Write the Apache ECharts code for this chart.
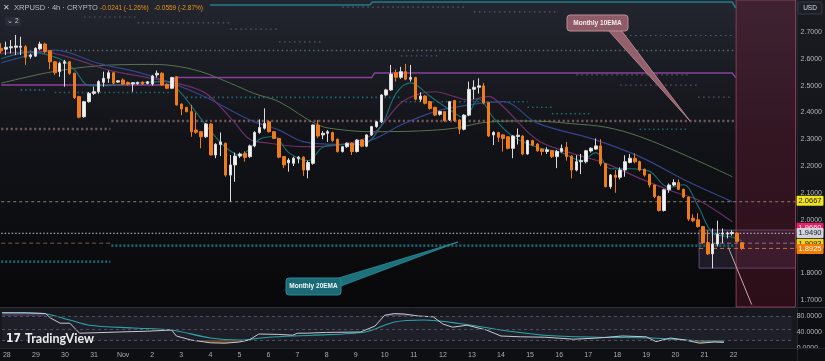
<!DOCTYPE html>
<html><head><meta charset="utf-8">
<script src="https://cdn.jsdelivr.net/npm/echarts@6/dist/echarts.min.js"></script>
<style>html,body{margin:0;padding:0;background:#0b0c10;}#c{width:825px;height:361px;}</style>
</head><body><div id="c"></div>
<script>
// ---------- DATA ----------
const opens  = [2.639,2.636,2.641,2.643,2.643,2.645,2.608,2.610,2.637,2.655,2.630,2.589,2.552,2.583,2.589,2.546,2.459,2.384,2.440,2.471,2.477,2.512,2.527,2.548,2.513,2.521,2.512,2.506,2.507,2.513,2.508,2.506,2.540,2.546,2.505,2.490,2.533,2.431,2.419,2.403,2.334,2.328,2.309,2.357,2.241,2.280,2.285,2.166,2.204,2.237,2.247,2.235,2.275,2.325,2.341,2.365,2.328,2.303,2.235,2.212,2.210,2.227,2.233,2.185,2.210,2.353,2.316,2.322,2.325,2.300,2.254,2.272,2.285,2.254,2.297,2.274,2.316,2.347,2.365,2.465,2.484,2.548,2.531,2.552,2.524,2.530,2.449,2.461,2.440,2.419,2.393,2.403,2.372,2.444,2.372,2.337,2.390,2.486,2.494,2.499,2.436,2.316,2.325,2.316,2.309,2.266,2.310,2.312,2.245,2.295,2.282,2.263,2.254,2.257,2.235,2.254,2.270,2.237,2.185,2.216,2.216,2.256,2.263,2.275,2.208,2.123,2.166,2.158,2.185,2.213,2.229,2.216,2.188,2.169,2.129,2.086,2.034,2.111,2.129,2.138,2.113,2.084,2.005,1.999,1.974,1.914,1.872,1.909,1.946,1.946,1.948,1.950,1.914];
const closes = [2.630,2.643,2.645,2.648,2.647,2.606,2.614,2.639,2.655,2.627,2.589,2.548,2.583,2.589,2.546,2.455,2.382,2.440,2.471,2.477,2.515,2.527,2.548,2.509,2.518,2.506,2.505,2.511,2.512,2.506,2.514,2.536,2.546,2.502,2.490,2.530,2.428,2.413,2.403,2.328,2.326,2.309,2.357,2.241,2.281,2.290,2.166,2.204,2.237,2.245,2.232,2.275,2.325,2.344,2.359,2.328,2.303,2.233,2.204,2.222,2.229,2.233,2.185,2.213,2.353,2.312,2.322,2.328,2.295,2.254,2.272,2.285,2.254,2.297,2.274,2.316,2.347,2.365,2.465,2.484,2.543,2.531,2.552,2.524,2.530,2.449,2.461,2.434,2.415,2.390,2.403,2.369,2.440,2.369,2.337,2.390,2.486,2.494,2.499,2.436,2.312,2.325,2.307,2.303,2.266,2.312,2.315,2.245,2.295,2.278,2.257,2.254,2.260,2.235,2.254,2.266,2.235,2.185,2.216,2.220,2.257,2.266,2.275,2.208,2.123,2.166,2.158,2.185,2.216,2.229,2.216,2.185,2.166,2.129,2.086,2.034,2.111,2.129,2.138,2.113,2.084,2.002,1.996,1.974,1.914,1.872,1.909,1.946,1.950,1.950,1.952,1.918,1.8925];
const lows   = [2.620,2.614,2.620,2.614,2.614,2.577,2.600,2.607,2.633,2.620,2.561,2.540,2.533,2.496,2.540,2.450,2.378,2.380,2.436,2.465,2.470,2.496,2.510,2.505,2.510,2.502,2.500,2.477,2.503,2.503,2.505,2.500,2.530,2.500,2.487,2.487,2.425,2.390,2.400,2.309,2.320,2.266,2.305,2.240,2.229,2.237,2.160,2.067,2.141,2.230,2.216,2.230,2.270,2.320,2.336,2.325,2.300,2.229,2.192,2.179,2.200,2.210,2.163,2.154,2.205,2.305,2.300,2.290,2.290,2.250,2.250,2.268,2.241,2.250,2.270,2.270,2.312,2.343,2.360,2.460,2.480,2.515,2.525,2.520,2.515,2.445,2.440,2.430,2.410,2.386,2.388,2.365,2.368,2.365,2.319,2.333,2.386,2.450,2.470,2.430,2.308,2.278,2.290,2.254,2.262,2.229,2.280,2.240,2.242,2.274,2.253,2.240,2.245,2.230,2.192,2.250,2.220,2.154,2.180,2.170,2.210,2.250,2.260,2.200,2.120,2.115,2.100,2.150,2.160,2.210,2.210,2.180,2.160,2.120,2.080,2.030,2.030,2.100,2.125,2.110,2.080,1.995,1.990,1.970,1.910,1.868,1.818,1.900,1.912,1.930,1.940,1.915,1.887];
const highs  = [2.658,2.664,2.670,2.689,2.682,2.651,2.620,2.643,2.664,2.660,2.633,2.592,2.589,2.596,2.592,2.548,2.462,2.443,2.476,2.496,2.520,2.552,2.556,2.550,2.520,2.527,2.515,2.513,2.515,2.516,2.517,2.540,2.556,2.550,2.508,2.533,2.535,2.433,2.420,2.428,2.399,2.330,2.360,2.360,2.285,2.325,2.287,2.241,2.250,2.250,2.255,2.280,2.330,2.374,2.415,2.370,2.330,2.305,2.237,2.229,2.235,2.237,2.236,2.220,2.355,2.372,2.330,2.334,2.328,2.302,2.275,2.288,2.288,2.300,2.300,2.318,2.350,2.368,2.468,2.488,2.577,2.560,2.570,2.581,2.577,2.533,2.475,2.464,2.443,2.421,2.406,2.405,2.443,2.447,2.374,2.393,2.515,2.520,2.527,2.510,2.440,2.330,2.328,2.320,2.312,2.315,2.340,2.315,2.298,2.298,2.285,2.265,2.270,2.260,2.260,2.280,2.290,2.240,2.240,2.245,2.260,2.270,2.303,2.300,2.210,2.170,2.185,2.195,2.240,2.245,2.248,2.220,2.190,2.170,2.130,2.090,2.115,2.135,2.150,2.150,2.115,2.086,2.020,2.024,1.975,1.960,1.967,1.996,1.967,1.955,1.960,1.952,1.916];

const dayLabels = ['28','29','30','31','Nov','2','3','4','5','6','7','8','9','10','11','12','13','14','15','16','17','18','19','20','21','22'];
const priceTicks = [1.7,1.8,1.9,2.0,2.1,2.2,2.3,2.4,2.5,2.6,2.7];
const oscTicks = [0,40,80];

// moving averages [candle index, price]
const maSlow = [[0,2.509],[10,2.55],[20,2.574],[30,2.579],[35,2.575],[41,2.552],[47,2.509],[52,2.47],[57,2.44],[65,2.353],[70,2.335],[76,2.328],[86,2.331],[93,2.341],[99,2.362],[106,2.368],[112,2.366],[117,2.358],[124,2.345],[131,2.31],[141,2.235],[150,2.16]];
const maMid = [[0,2.585],[5,2.61],[11,2.632],[20,2.583],[30,2.54],[41,2.465],[51,2.372],[57,2.334],[62,2.291],[69,2.281],[76,2.297],[82,2.353],[89,2.403],[96,2.428],[103,2.44],[110,2.36],[121,2.303],[131,2.235],[141,2.141],[150,2.067]];
const maPurple = [[0,2.62],[8,2.628],[15,2.60],[22,2.558],[30,2.53],[38,2.50],[42,2.471],[45,2.42],[48,2.36],[51,2.30],[55,2.285],[62,2.272],[69,2.278],[76,2.316],[82,2.435],[86,2.471],[89,2.477],[93,2.459],[96,2.446],[100,2.46],[103,2.421],[110,2.297],[117,2.248],[124,2.21],[131,2.154],[138,2.104],[143,2.073],[150,1.992]];
const maFast = [[0,2.60],[6,2.625],[12,2.60],[15,2.56],[18,2.50],[22,2.50],[28,2.51],[34,2.515],[37,2.47],[40,2.40],[43,2.33],[46,2.27],[49,2.24],[53,2.30],[56,2.31],[59,2.25],[63,2.22],[66,2.27],[70,2.28],[74,2.28],[78,2.35],[81,2.47],[84,2.51],[88,2.46],[92,2.41],[95,2.38],[98,2.45],[101,2.38],[105,2.31],[110,2.27],[115,2.25],[119,2.22],[122,2.25],[125,2.19],[129,2.19],[133,2.18],[137,2.12],[140,2.13],[143,2.05],[146,1.95],[150,1.935],[152,1.92]];

// horizontal levels [fromIndex, toIndex, price]
const topTealLine = [[42.8,2.8007],[75.6,2.8007],[76.2,2.812],[150,2.812],[150.7,2.79]];
const purpleLevel = [[0,2.502],[35.6,2.502],[35.6,2.530],[76,2.530],[76.6,2.547],[150,2.547],[150.7,2.53]];
const greenDotLevels = [[4,150.4,2.631]];
const brownDotLevels = [[0,22.4,2.338],[22.6,150.4,2.368]];
const tealDotLevels = [[4,9,2.484],[11,35,2.474],[38,82,2.456],[82,108,2.440],[108,113,2.419],[113,121,2.395],[131,141,2.337]];
const lavDotLevels = [[17,28,2.756],[28,47,2.734],[47,57,2.711],[57,66,2.663],[70,95,2.793],[82,90,2.611],[97,114,2.775],[118,141,2.540],[127,143,2.502],[128,150,2.687],[143,150,2.457]];
const fullDotLevels = [[0,163,2.0667],[0,163,1.949]];
const brownDashLevels = [[0,22.4,1.912]];
const tealThickLevels = [[22.6,150.4,1.903],[0,22.4,1.843]];
const boxDashLevels = [[143.2,163,1.912],[143.2,163,1.8925]];
const pinkDiag = [[149.2,1.896],[154,1.683]];
const zoneStart = 150.8;
const boxRange = [143.2, 1.961, 1.819];
const priceTags = [1.9660, 2.0667, 1.9490, 1.9093, 1.8925];

// stochastic RSI [candle index, value]
const stochK = [[0,88],[5,88],[9,86],[10,75],[12,62],[14,62],[16,37],[19,38],[24,40],[30,42],[35,45],[36,30],[39,20],[43,13],[46,12],[49,15],[51,20],[53,35],[57,34],[60,32],[61,37],[63,37],[67,39],[74,40],[77,55],[79,82],[81,86],[83,85],[86,80],[89,78],[91,60],[93,52],[96,57],[100,45],[103,30],[107,28],[112,27],[118,22],[123,25],[128,30],[133,28],[135,16],[138,25],[141,20],[144,12],[147,15],[149,14]];
const stochD = [[0,88],[8,87],[14,70],[18,57],[27,50],[35,45],[43,25],[49,20],[55,27],[64,32],[75,40],[81,65],[87,70],[94,62],[103,45],[112,32],[123,27],[134,25],[144,18],[149,17]];
const oscBands = [80,47,19];

// ---------- CHART ----------
const N = 164, SP = 4.88, L = 1.2, PW = (N-1)*SP;
const cats = Array.from({length:N},(_,i)=>String(i));
const ymin = 2.7 - 275/268, ymax = 2.7 + 32/268;
const FONT = '"Liberation Sans", Arial, sans-serif';
const chart = echarts.init(document.getElementById('c'), null, {renderer:'canvas'});

function lvl(list, color, width, type, z){
  return list.map(s => ({type:'line', xAxisIndex:2, yAxisIndex:0, silent:true, symbol:'none', z:z||2,
    data:[[s[0],s[2]],[s[1],s[2]]], lineStyle:{color:color, width:width, type:type}}));
}
function maLine(d,color,w){return {type:'line',xAxisIndex:2,yAxisIndex:0,data:d,smooth:0.35,symbol:'none',silent:true,z:3,lineStyle:{color:color,width:w}};}

const tagColors = [['#e91e63','#fff'],['#f2e21c','#131722'],['#d1d4dc','#131722'],['#f2d21c','#131722'],['#f57c00','#fff']];

const series = [
  {type:'line', xAxisIndex:2, yAxisIndex:0, data:[], z:1, silent:true,
   markArea:{silent:true, data:[
     [{xAxis:boxRange[0], yAxis:boxRange[1], itemStyle:{color:'rgba(150,120,190,0.15)', borderColor:'#5e4f78', borderWidth:1}}, {xAxis:163, yAxis:boxRange[2]}],
     [{xAxis:zoneStart, itemStyle:{color:'rgba(130,30,60,0.3)', borderColor:'#8a3d55', borderWidth:1}}, {xAxis:163}]
   ]}},
  ...lvl(lavDotLevels,'#5c5575',1.2,[1.5,3.5]),
  ...lvl(greenDotLevels,'#55705f',1.4,[1.5,3]),
  ...lvl(tealDotLevels,'#1f6a72',1.6,[1.5,3]),
  ...lvl(brownDotLevels,'#6e5558',2.6,[2.2,2.5]),
  {type:'line',xAxisIndex:2,yAxisIndex:0,data:purpleLevel,symbol:'none',silent:true,z:2,lineStyle:{color:'#8a3f9c',width:1.4}},
  {type:'line',xAxisIndex:2,yAxisIndex:0,data:topTealLine,symbol:'none',silent:true,z:2,lineStyle:{color:'#1f7f8a',width:1.6}},
  ...lvl([fullDotLevels[0]],'#8a8468',1,[3,3]),
  ...lvl([fullDotLevels[1]],'#c9c9d0',1,[1.5,2]),
  ...lvl(brownDashLevels,'#7a5a48',1,[4,3]),
  ...lvl(tealThickLevels,'#1d6870',2.6,[2,2]),
  ...lvl([boxDashLevels[0]],'#a06a80',1,[4,3]),
  ...lvl([boxDashLevels[1]],'#c07040',1,[4,3]),
  {type:'line',xAxisIndex:2,yAxisIndex:0,data:pinkDiag,symbol:'none',silent:true,z:4,lineStyle:{color:'#c9a3ab',width:1}},
  maLine(maSlow,'#56734f',1),
  maLine(maMid,'#34448a',1.2),
  maLine(maPurple,'#6d2f68',1.2),
  maLine(maFast,'#176f74',1.1),
  {type:'candlestick', xAxisIndex:0, yAxisIndex:0, barWidth:3, z:5, silent:true,
   data: opens.map((o,i)=>[o, closes[i], lows[i], highs[i]]),
   itemStyle:{color:'#f4f4f4', color0:'#ee7b1c', borderColor:'#dcdcdc', borderColor0:'#ee7b1c', borderWidth:1}},
  {type:'line', xAxisIndex:2, yAxisIndex:0, data:[[0,null]], z:20, silent:true, symbol:'none',
   markLine:{silent:true, symbol:['none','none'], animation:false,
     data: priceTags.map((v,k)=>({yAxis:v, lineStyle:{color:'rgba(0,0,0,0)', width:0.01},
       label:{show:true, position:'end', distance:1, formatter:v.toFixed(4), backgroundColor:tagColors[k][0], color:tagColors[k][1],
              fontSize:7.5, fontFamily:FONT, padding:[1,2,1,2], borderRadius:1}}))}},
  // oscillator
  {type:'line', xAxisIndex:3, yAxisIndex:1, data:stochK.filter(p=>p[0]>=39&&p[0]<=51), symbol:'none', silent:true, z:2,
   lineStyle:{width:0}, areaStyle:{origin:20, color:'rgba(230,120,30,0.55)'}},
  {type:'line', xAxisIndex:3, yAxisIndex:1, data:stochK.filter(p=>p[0]>=141&&p[0]<=149), symbol:'none', silent:true, z:2,
   lineStyle:{width:0}, areaStyle:{origin:20, color:'rgba(230,120,30,0.55)'}},
  {type:'line', xAxisIndex:3, yAxisIndex:1, data:stochK.filter(p=>p[0]<=9), symbol:'none', silent:true, z:2,
   lineStyle:{width:0}, areaStyle:{origin:80, color:'rgba(150,110,190,0.45)'}},
  {type:'line', xAxisIndex:3, yAxisIndex:1, data:stochK.filter(p=>p[0]>=79&&p[0]<=86), symbol:'none', silent:true, z:2,
   lineStyle:{width:0}, areaStyle:{origin:80, color:'rgba(150,110,190,0.45)'}},
  {type:'line', xAxisIndex:3, yAxisIndex:1, data:stochD, smooth:0.3, symbol:'none', silent:true, z:3, lineStyle:{color:'#2aa6a8', width:1.1},
   markLine:{silent:true, symbol:['none','none'], label:{show:false}, lineStyle:{color:'#4c4f60', type:[3,3], width:1},
     data: oscBands.map(v=>({yAxis:v}))},
   markArea:{silent:true, itemStyle:{color:'rgba(120,120,170,0.08)'}, data:[[{yAxis:oscBands[2]},{yAxis:oscBands[0]}]]}},
  {type:'line', xAxisIndex:3, yAxisIndex:1, data:stochK, symbol:'none', silent:true, z:4, lineStyle:{color:'#c9c9cf', width:1}}
];

const option = {
  animation:false,
  backgroundColor:'#0b0c10',
  textStyle:{fontFamily:FONT},
  grid:[
    {left:L, top:0, width:PW, height:307},
    {left:L, top:308, width:PW, height:40}
  ],
  xAxis:[
    {type:'category', gridIndex:0, data:cats, boundaryGap:false, show:false},
    {type:'category', gridIndex:1, data:cats, boundaryGap:false,
     axisLine:{show:false}, axisTick:{show:false}, splitLine:{show:false},
     axisLabel:{color:'#a9acb5', fontSize:7, fontFamily:FONT, margin:4,
       interval:(idx)=> idx>=1 && (idx-1)%6===0 && (idx-1)/6 < dayLabels.length,
       formatter:(v,idx)=> dayLabels[(idx-1)/6] || ''}},
    {type:'value', gridIndex:0, min:0, max:N-1, show:false},
    {type:'value', gridIndex:1, min:0, max:N-1, show:false}
  ],
  yAxis:[
    {type:'value', gridIndex:0, position:'right', min:ymin, max:ymax, splitLine:{show:false},
     axisLine:{show:false}, axisTick:{show:false},
     axisLabel:{customValues:priceTicks, color:'#b2b5be', fontSize:7, fontFamily:FONT, margin:5, formatter:v=>v.toFixed(4)}},
    {type:'value', gridIndex:1, position:'right', min:0, max:100, splitLine:{show:false},
     axisLine:{show:false}, axisTick:{show:false},
     axisLabel:{customValues:oscTicks, color:'#b2b5be', fontSize:7, fontFamily:FONT, margin:5, formatter:v=>v.toFixed(4)}}
  ],
  graphic:[
    {type:'rect', z:-10, silent:true, shape:{x:0,y:0,width:797,height:307},
     style:{fill:new echarts.graphic.LinearGradient(0,0,0,1,[{offset:0,color:'#23262f'},{offset:0.45,color:'#121318'},{offset:1,color:'#08080a'}])}},
    {type:'rect', z:-10, silent:true, shape:{x:0,y:308,width:797,height:40}, style:{fill:'#17181e'}},
    {type:'rect', z:-10, silent:true, shape:{x:0,y:348,width:797,height:13}, style:{fill:'#0e0f12'}},
    {type:'rect', z:-10, silent:true, shape:{x:797,y:0,width:28,height:361},
     style:{fill:new echarts.graphic.LinearGradient(0,0,0,1,[{offset:0,color:'#191b21'},{offset:1,color:'#0c0d10'}])}},
    {type:'rect', z:100, silent:true, shape:{x:798,y:349,width:27,height:12}, style:{fill:'#0e0f12'}},
    {type:'line', z:-9, silent:true, shape:{x1:0,y1:307.5,x2:825,y2:307.5}, style:{stroke:'#2c2f3a',lineWidth:1}},
    {type:'line', z:101, silent:true, shape:{x1:0,y1:348.5,x2:825,y2:348.5}, style:{stroke:'#23252e',lineWidth:1}},
    {type:'line', z:-9, silent:true, shape:{x1:797.5,y1:0,x2:797.5,y2:361}, style:{stroke:'#23252e',lineWidth:1}},
    // header
    {type:'text', z:100, silent:true, style:{x:3, y:8, text:'✕', fill:'#c8cad2', fontSize:8, verticalAlign:'middle', fontFamily:FONT}},
    {type:'text', z:100, silent:true, style:{x:14, y:8, text:'XRPUSD · 4h · CRYPTO', fill:'#b9bcc5', fontSize:7.5, verticalAlign:'middle', fontFamily:FONT}},
    {type:'text', z:100, silent:true, style:{x:100, y:8, text:'-0.0241 (-1.26%)   -0.0559 (-2.87%)', fill:'#e8951c', fontSize:6.5, verticalAlign:'middle', fontFamily:FONT}},
    {type:'rect', z:100, silent:true, shape:{x:5,y:17,width:16,height:9,r:2}, style:{fill:'#2a2d37'}},
    {type:'text', z:101, silent:true, style:{x:13, y:21.5, text:'⌄ 2', fill:'#c8cad2', fontSize:6.5, align:'center', verticalAlign:'middle', fontFamily:FONT}},
    // USD
    {type:'rect', z:100, silent:true, shape:{x:798,y:2,width:24,height:12,r:1}, style:{fill:'#1d2029', stroke:'#363a45', lineWidth:1}},
    {type:'text', z:101, silent:true, style:{x:810, y:8, text:'USD', fill:'#d8dae0', fontSize:6.5, align:'center', verticalAlign:'middle', fontFamily:FONT}},
    // Monthly 10EMA callout
    {type:'polygon', z:100, silent:true, shape:{points:[[608,30],[621,30],[690,121]]}, style:{fill:'#94606c', stroke:'#c28f9a', lineWidth:0.8}},
    {type:'rect', z:101, silent:true, shape:{x:567,y:15,width:61,height:16,r:3}, style:{fill:'#8e5b67', stroke:'#b98d97', lineWidth:1}},
    {type:'text', z:102, silent:true, style:{x:597.5, y:23, text:'Monthly 10EMA', fill:'#f3ecee', fontSize:6.5, fontWeight:'bold', align:'center', verticalAlign:'middle', fontFamily:FONT}},
    // Monthly 20EMA callout
    {type:'polygon', z:100, silent:true, shape:{points:[[332,280],[341,286],[458,242]]}, style:{fill:'#1c717d', stroke:'#2a8f9b', lineWidth:0.8}},
    {type:'rect', z:101, silent:true, shape:{x:286,y:278,width:55,height:17,r:3}, style:{fill:'#1b6a75', stroke:'#2a8a96', lineWidth:1}},
    {type:'text', z:102, silent:true, style:{x:313.5, y:286.5, text:'Monthly 20EMA', fill:'#eef6f7', fontSize:6.5, fontWeight:'bold', align:'center', verticalAlign:'middle', fontFamily:FONT}},
    // logo
    {type:'text', z:100, silent:true, style:{x:6, y:339, text:'17', fill:'#ececec', fontSize:12, fontWeight:'bold', verticalAlign:'middle', fontFamily:'"DejaVu Sans Condensed", sans-serif'}},
    {type:'text', z:100, silent:true, style:{x:25, y:339, text:'TradingView', fill:'#ececec', fontSize:12.5, fontWeight:'bold', verticalAlign:'middle', fontFamily:'Lato, sans-serif'}}
  ],
  series: series
};
chart.setOption(option);
</script>
</body></html>
